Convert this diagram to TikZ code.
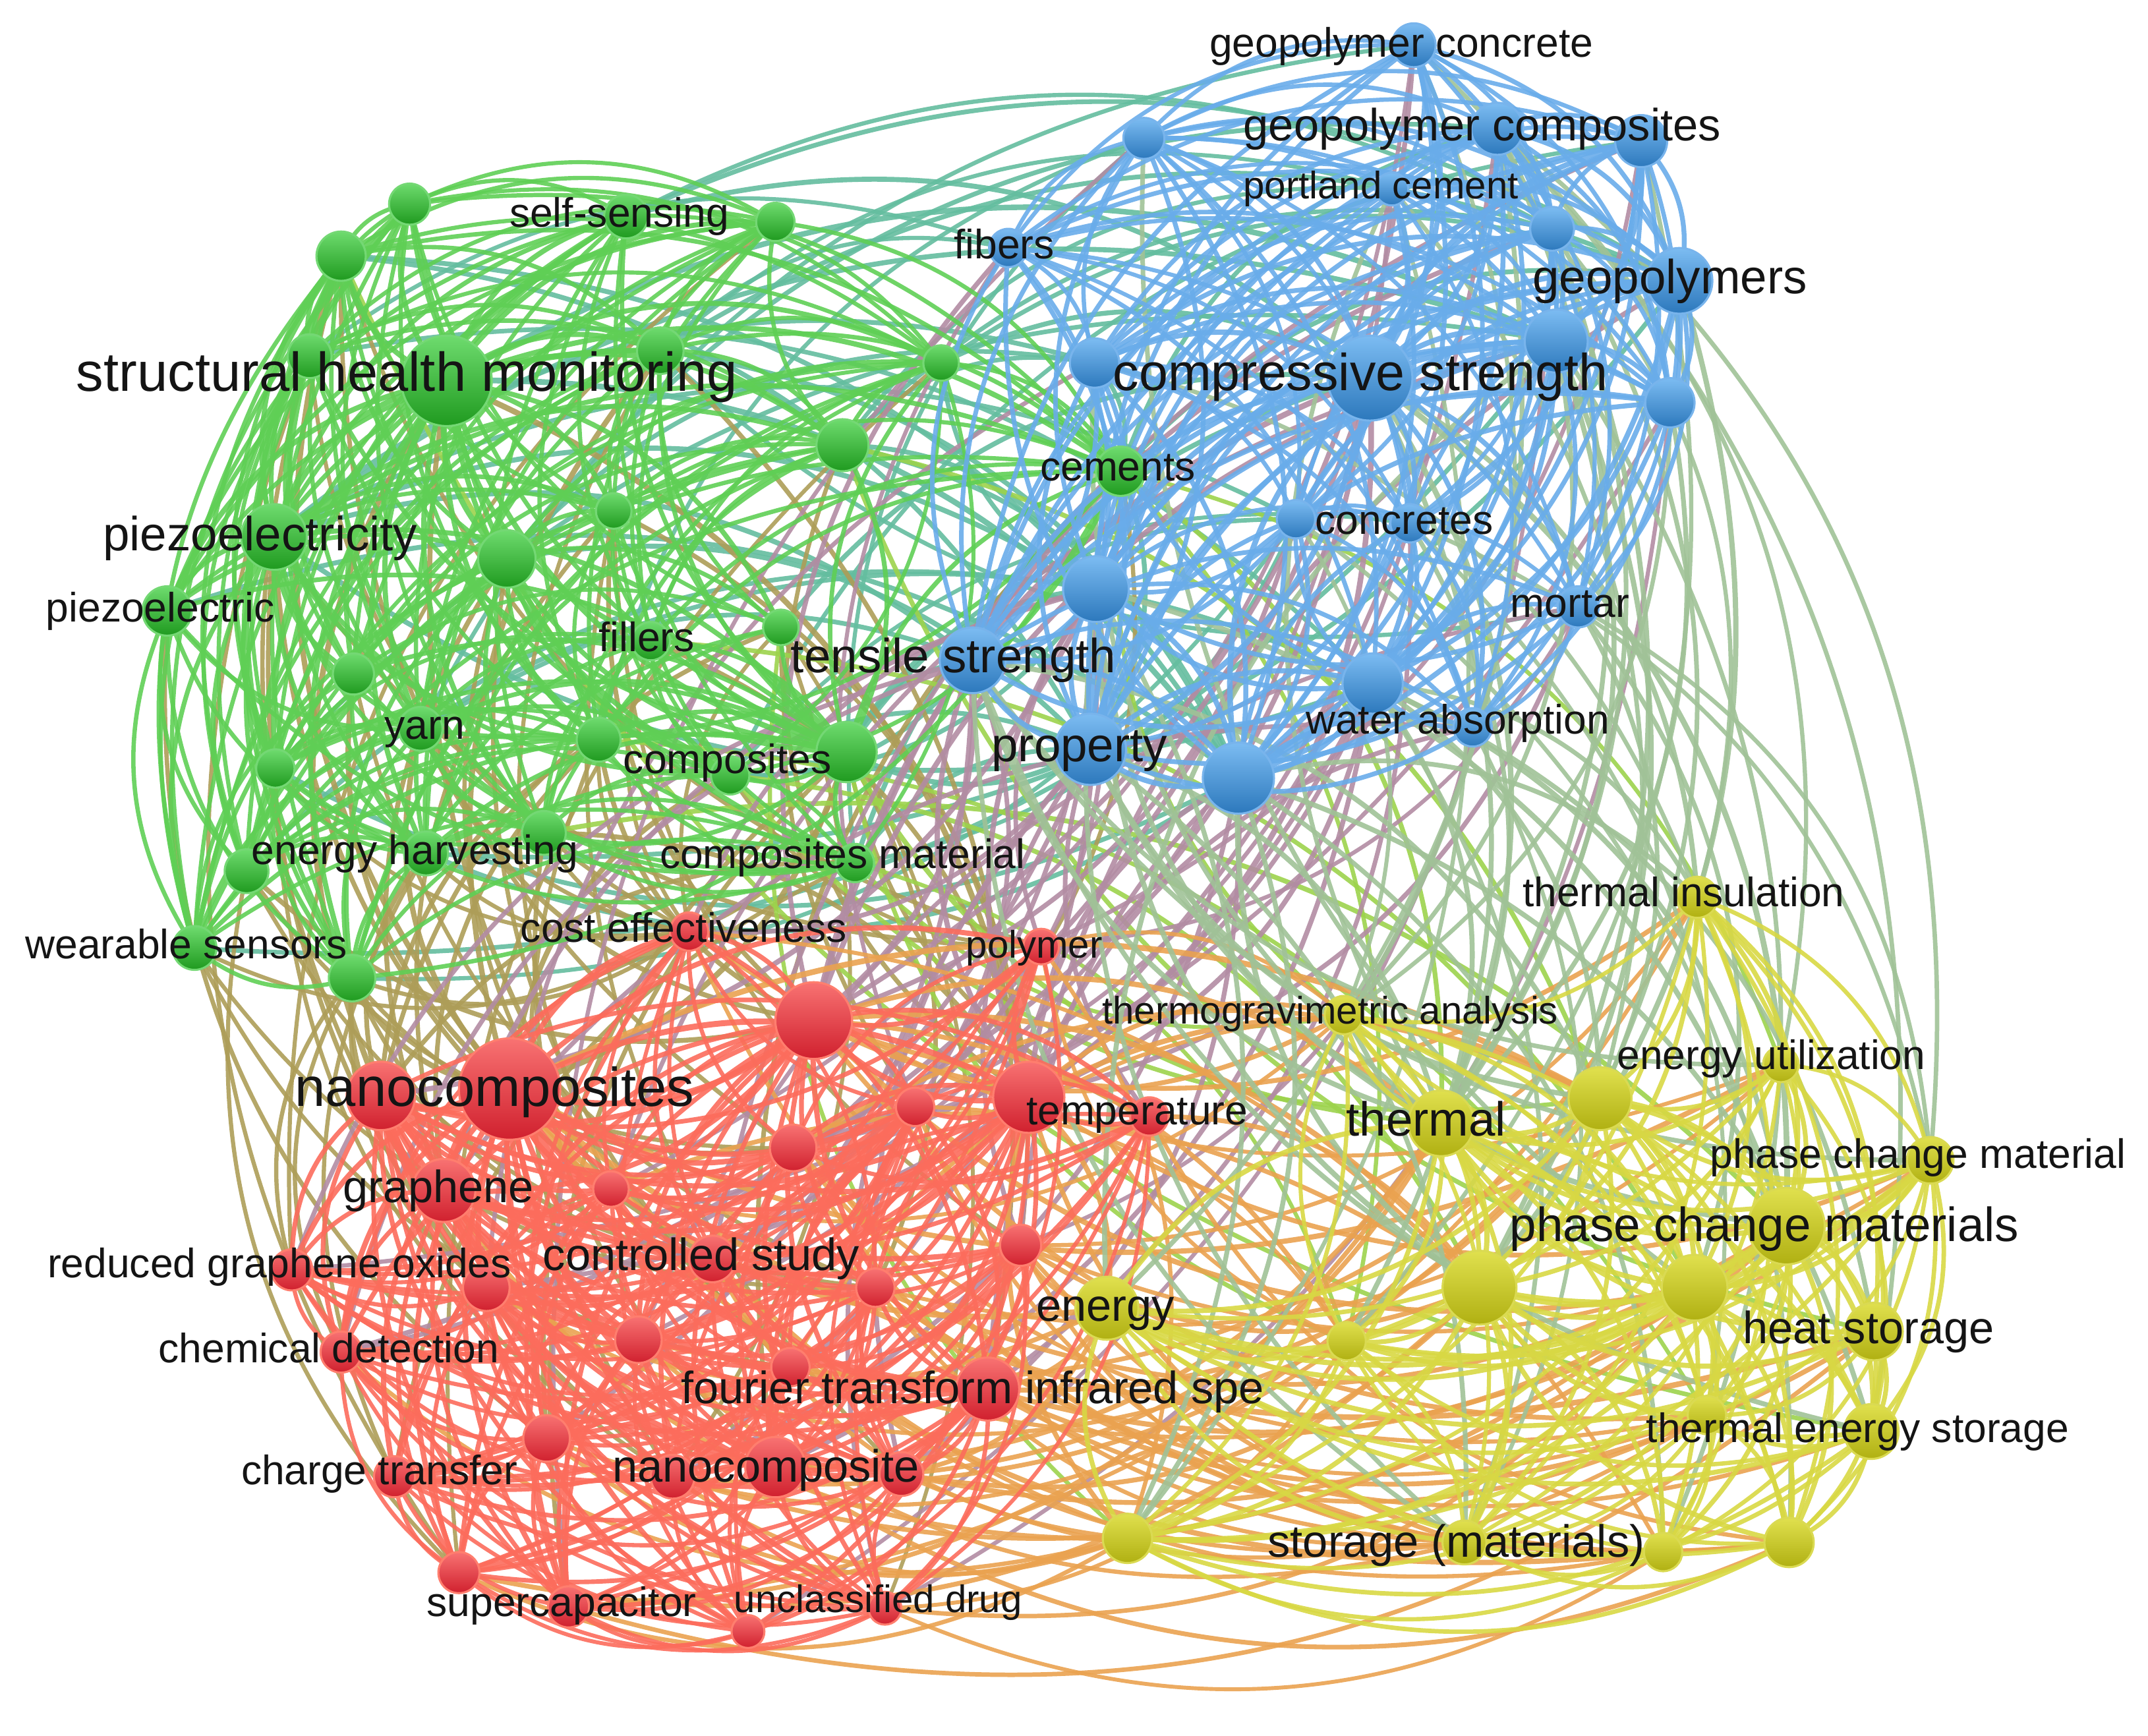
\documentclass[tikz,border=0pt]{standalone}
\usepackage{fontspec}
\setmainfont{Liberation Sans}
\pgfdeclarelayer{edgelayer}
\pgfsetlayers{edgelayer,main}
\definecolor{gE}{HTML}{5FCF55}
\definecolor{bE}{HTML}{69ACEA}
\definecolor{rE}{HTML}{FC6C5C}
\definecolor{yE}{HTML}{D8D844}
\colorlet{gbE}{gE!50!bE}
\colorlet{grE}{gE!50!rE}
\colorlet{gyE}{gE!50!yE}
\colorlet{rbE}{rE!50!bE}
\colorlet{ryE}{rE!50!yE}
\colorlet{byE}{bE!50!yE}
\definecolor{gTop}{HTML}{6EDB6E}\definecolor{gBot}{HTML}{1F9A1F}\definecolor{gRim}{HTML}{74D874}
\definecolor{bTop}{HTML}{7CBCF2}\definecolor{bBot}{HTML}{2C78BC}\definecolor{bRim}{HTML}{78B4EC}
\definecolor{rTop}{HTML}{F87272}\definecolor{rBot}{HTML}{D0202E}\definecolor{rRim}{HTML}{FF7E6E}
\definecolor{yTop}{HTML}{E0E04E}\definecolor{yBot}{HTML}{B0B012}\definecolor{yRim}{HTML}{DADA52}
\definecolor{labc}{HTML}{141414}
\tikzset{
  kw/.style={circle, inner sep=0pt, minimum size=#1, line width=1.5pt},
  gnode/.style={top color=gTop, bottom color=gBot, draw=gRim},
  bnode/.style={top color=bTop, bottom color=bBot, draw=bRim},
  rnode/.style={top color=rTop, bottom color=rBot, draw=rRim},
  ynode/.style={top color=yTop, bottom color=yBot, draw=yRim},
  lab/.style={inner sep=0pt, anchor=base, text=labc},
  link/.style={line cap=round, opacity=0.9},
}
\def\glist{g1/326/278/33, g2/226/260/16, g3/249/187/18, g4/299/149/15, g5/457/158/16, g6/566/162/14, g7/482/256/17, g8/687/265/13, g9/615/325/19, g10/818/344/18, g11/448/373/13, g12/370/408/21, g13/200/392/24, g14/122/446/18, g15/475/468/14, g16/570/458/13, g17/258/492/15, g18/307/532/16, g19/437/540/16, g20/533/566/14, g21/618/549/22, g22/201/561/14, g23/180/636/16, g24/311/623/16, g25/397/608/16, g26/624/630/14, g27/142/692/16, g28/257/714/17}
\def\blist{b1/1032/33/16, b2/835/101/15, b3/1093/94/19, b4/1198/103/19, b5/1016/138/12, b6/1133/167/16, b7/1226/205/24, b8/1136/249/23, b9/1219/294/18, b10/736/181/14, b11/799/265/18, b12/1000/276/31, b13/946/379/14, b14/1029/382/14, b15/800/430/24, b16/1152/443/15, b17/710/482/24, b18/796/547/26, b19/904/568/26, b20/1002/499/22, b21/1075/531/14}
\def\rlist{r1/372/795/37, r2/278/800/25, r3/324/869/23, r4/213/927/15, r5/355/940/17, r6/446/868/13, r7/249/987/15, r8/466/978/17, r9/579/838/17, r10/594/745/28, r11/503/680/14, r12/520/919/17, r13/577/998/14, r14/399/1050/17, r15/288/1078/15, r16/491/1078/16, r17/566/1071/22, r18/658/1076/16, r19/335/1148/15, r20/415/1173/15, r21/546/1191/12, r22/646/1174/12, r23/639/940/14, r24/745/909/15, r25/721/1014/23, r26/668/808/14, r27/751/801/26, r28/839/815/14, r29/760/691/13}
\def\ylist{y1/981/741/14, y2/1052/820/24, y3/1168/802/23, y4/1300/777/13, y5/1239/655/15, y6/1409/847/17, y7/1304/895/28, y8/1080/940/27, y9/1237/940/24, y10/983/979/14, y11/808/955/23, y12/1368/972/21, y13/1246/1033/14, y14/1366/1045/20, y15/823/1123/18, y16/1069/1126/16, y17/1214/1133/14, y18/1306/1126/18}
% #1 list A, #2 list B, #3 colour, #4 factor, #5 same list (1/0), #6 salt
\newcommand{\linkset}[6]{%
  \foreach \a/\ax/\ay/\ar [count=\i] in #1 {
    \foreach \b/\bx/\by/\br [count=\j] in #2 {
      \pgfmathtruncatemacro\hh{mod(mod(\i*\i*17,101)+mod(\j*\j*13,101)+mod(\i*\j*7,101)+#6,101)}
      \pgfmathsetmacro\dist{100*sqrt(((\bx-\ax)/100)^2+((\by-\ay)/100)^2)}
      \ifnum#5=1
        \pgfmathtruncatemacro\thr{(\ar+\br)*#4}
        \ifnum\j>\i\else\def\thr{-1}\fi
      \else
        \pgfmathtruncatemacro\thr{(\ar+\br)*#4*max(0.25,1.8-\dist/600)}
      \fi
      \ifnum\hh<\thr
        \pgfmathsetmacro\ddx{\bx-\ax}
        \pgfmathsetmacro\ddy{\by-\ay}
        \pgfmathsetmacro\side{(\ddy/100)*(((\ax+\bx)/2-784)/100)-(\ddx/100)*(((\ay+\by)/2-640)/100)}
        \pgfmathsetmacro\dm{((\ax+\bx)/200-7.84)^2+((\ay+\by)/200-6.4)^2}
        \pgfmathtruncatemacro\prty{mod(\i+\j+#6,2)}
        \pgfmathsetmacro\sgA{\side>0 ? 0.184 : -0.184}
        \pgfmathsetmacro\sgB{\prty==1 ? 0.184 : -0.184}
        \pgfmathsetmacro\sg{\dm<9 ? \sgB : \sgA}
        \pgfmathsetmacro\cax{\ax+0.346*\ddx+\sg*\ddy}
        \pgfmathsetmacro\cay{\ay+0.346*\ddy-\sg*\ddx}
        \pgfmathsetmacro\cbx{\bx-0.346*\ddx+\sg*\ddy}
        \pgfmathsetmacro\cby{\by-0.346*\ddy-\sg*\ddx}
        \pgfmathsetmacro\lw{1.8+(\ar+\br)/25}
        \draw[link, line width=\lw pt, draw=#3] (\a.center) .. controls (\cax,\cay) and (\cbx,\cby) .. (\b.center);
      \fi
    }
  }%
}
\newcommand{\klabel}[5]{\node[lab, font=\fontsize{#4}{#4}\selectfont] (#1) at ({#2},{#3+0.26*#4}) {#5};}
\begin{document}
\begin{tikzpicture}[x=1pt, y=-1pt]
\useasboundingbox (0,0) rectangle (1568,1267);
% keyword circles
\foreach \n/\x/\y/\r in \glist {\node[kw=2*\r, gnode] (\n) at (\x,\y) {};}
\foreach \n/\x/\y/\r in \blist {\node[kw=2*\r, bnode] (\n) at (\x,\y) {};}
\foreach \n/\x/\y/\r in \rlist {\node[kw=2*\r, rnode] (\n) at (\x,\y) {};}
\foreach \n/\x/\y/\r in \ylist {\node[kw=2*\r, ynode] (\n) at (\x,\y) {};}
% links
\begin{pgfonlayer}{edgelayer}
\linkset{\glist}{\blist}{gbE}{0.44}{0}{11}
\linkset{\glist}{\rlist}{grE}{0.32}{0}{23}
\linkset{\glist}{\ylist}{gyE}{0.32}{0}{37}
\linkset{\rlist}{\blist}{rbE}{0.48}{0}{41}
\linkset{\rlist}{\ylist}{ryE}{0.66}{0}{53}
\linkset{\blist}{\ylist}{byE}{0.60}{0}{67}
\linkset{\glist}{\glist}{gE}{1.7}{1}{5}
\linkset{\rlist}{\rlist}{rE}{1.7}{1}{17}
\linkset{\blist}{\blist}{bE}{2.2}{1}{29}
\linkset{\ylist}{\ylist}{yE}{2.2}{1}{31}
\end{pgfonlayer}
% labels
\klabel{l-shm}{297}{275}{40}{structural health monitoring}
\klabel{l-nanos}{361}{797}{40}{nanocomposites}
\klabel{l-cs}{993}{275}{38}{compressive strength}
\klabel{l-geos}{1219}{205}{35}{geopolymers}
\klabel{l-piezoy}{190}{393}{35}{piezoelectricity}
\klabel{l-ts}{696}{482}{35}{tensile strength}
\klabel{l-prop}{788}{547}{35}{property}
\klabel{l-therm}{1041}{820}{35}{thermal}
\klabel{l-pcms}{1288}{897}{35}{phase change materials}
\klabel{l-graph}{320}{869}{33}{graphene}
\klabel{l-energy}{807}{956}{33}{energy}
\klabel{l-hs}{1364}{972}{33}{heat storage}
\klabel{l-gc}{1082}{94}{33}{geopolymer composites}
\klabel{l-ctrl}{512}{919}{33}{controlled study}
\klabel{l-nano}{559}{1073}{33}{nanocomposite}
\klabel{l-ftir}{710}{1016}{33}{fourier transform infrared spe}
\klabel{l-stor}{1063}{1128}{33}{storage (materials)}
\klabel{l-ss}{452}{158}{30}{self-sensing}
\klabel{l-piezo}{117}{446}{30}{piezoelectric}
\klabel{l-fill}{472}{468}{30}{fillers}
\klabel{l-yarn}{310}{532}{30}{yarn}
\klabel{l-comp}{531}{557}{30}{composites}
\klabel{l-eh}{303}{623}{30}{energy harvesting}
\klabel{l-cm}{615}{626}{30}{composites material}
\klabel{l-ws}{136}{692}{30}{wearable sensors}
\klabel{l-ce}{499}{680}{30}{cost effectiveness}
\klabel{l-cem}{816}{343}{30}{cements}
\klabel{l-conc}{1025}{382}{30}{concretes}
\klabel{l-mort}{1146}{443}{30}{mortar}
\klabel{l-wa}{1064}{528}{30}{water absorption}
\klabel{l-fib}{733}{181}{30}{fibers}
\klabel{l-gconc}{1023}{34}{30}{geopolymer concrete}
\klabel{l-ti}{1229}{654}{30}{thermal insulation}
\klabel{l-eu}{1293}{773}{30}{energy utilization}
\klabel{l-pcm}{1400}{845}{30}{phase change material}
\klabel{l-tes}{1356}{1045}{30}{thermal energy storage}
\klabel{l-temp}{830}{813}{30}{temperature}
\klabel{l-rgo}{204}{925}{30}{reduced graphene oxides}
\klabel{l-chem}{240}{987}{30}{chemical detection}
\klabel{l-ct}{277}{1076}{30}{charge transfer}
\klabel{l-sc}{410}{1172}{30}{supercapacitor}
\klabel{l-pc}{1008}{138}{28}{portland cement}
\klabel{l-poly}{755}{692}{28}{polymer}
\klabel{l-tga}{971}{740}{28}{thermogravimetric analysis}
\klabel{l-ud}{641}{1170}{28}{unclassified drug}
\end{tikzpicture}
\end{document}
